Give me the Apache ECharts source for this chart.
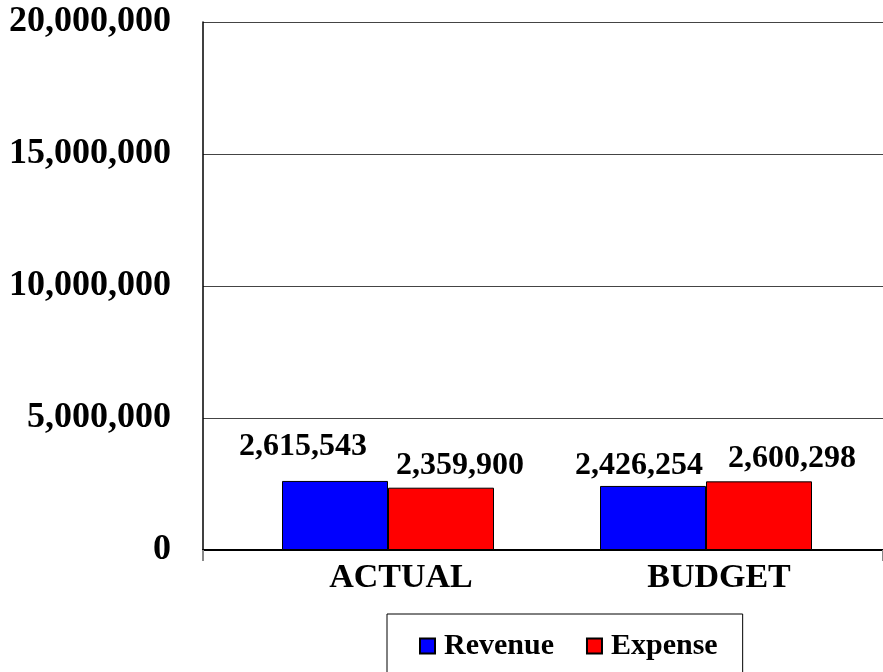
<!DOCTYPE html>
<html>
<head>
<meta charset="utf-8">
<script src="https://cdn.jsdelivr.net/npm/echarts@6/dist/echarts.min.js"></script>
<style>
html,body{margin:0;padding:0;background:#fff;}
#chart{width:883px;height:672px;}
</style>
</head>
<body>
<div id="chart"></div>
<script>
const categories = ['ACTUAL', 'BUDGET'];
const seriesNames = ['Revenue', 'Expense'];
const revenue = [2615543, 2426254];
const expense = [2359900, 2600298];
const yMin = 0, yMax = 20000000, yStep = 5000000;

const FONT = "'Times New Roman', 'Liberation Serif', serif";
const fmt = v => Math.round(v).toLocaleString('en-US');

// label nudges (layout only)
const revShift = [[-32, -12], [-14, 2]];
const expShift = [[19, 0], [33, -1]];

function items(vals, shifts) {
  return vals.map((v, i) => ({ value: v, label: { offset: shifts[i] } }));
}

const chart = echarts.init(document.getElementById('chart'), null, { renderer: 'canvas' });
const labelCommon = {
  show: true, position: 'top', distance: 6,
  fontFamily: FONT, fontWeight: 'bold', fontSize: 32, color: '#000',
  formatter: p => fmt(p.value)
};
chart.setOption({
  animation: false,
  backgroundColor: '#fff',
  grid: [
    { left: 203, right: 0, top: 22, bottom: 122 },
    { left: 229, right: 18, top: 22, bottom: 122 }
  ],
  legend: {
    data: seriesNames.map(n => ({ name: n, icon: 'rect' })),
    left: 387, top: 614,
    padding: [17, 25, 13, 32],
    itemGap: 32, itemWidth: 15, itemHeight: 15,
    borderColor: '#000', borderWidth: 1,
    textStyle: { fontFamily: FONT, fontWeight: 'bold', fontSize: 30, color: '#000', padding: [0, 0, 0, 4] }
  },
  xAxis: [
    {
      gridIndex: 0, type: 'category', data: categories,
      axisLine: { show: true, lineStyle: { color: '#000', width: 2 } },
      axisTick: { show: true, length: 11, interval: (i) => i === 0, lineStyle: { color: '#888', width: 2 } },
      axisLabel: { show: false }
    },
    {
      gridIndex: 1, type: 'category', data: categories,
      axisLine: { show: false }, axisTick: { show: false },
      axisLabel: { show: true, margin: 11, padding: [0, 0, 0, 26], fontFamily: FONT, fontWeight: 'bold', fontSize: 34, color: '#000' }
    }
  ],
  yAxis: [
    {
      gridIndex: 0, type: 'value', min: yMin, max: yMax, interval: yStep,
      axisLine: { show: true, lineStyle: { color: '#000', width: 1.5 } },
      axisTick: { show: false },
      splitLine: { show: true, lineStyle: { color: '#444', width: 1.2 } },
      axisLabel: { margin: 32, fontFamily: FONT, fontWeight: 'bold', fontSize: 36, color: '#000', formatter: v => fmt(v) }
    },
    {
      gridIndex: 1, type: 'value', min: yMin, max: yMax, interval: yStep,
      show: false, splitLine: { show: false }
    }
  ],
  series: [
    {
      name: seriesNames[0], type: 'bar', xAxisIndex: 1, yAxisIndex: 1,
      data: items(revenue, revShift),
      barWidth: 106, barGap: '0%',
      itemStyle: { color: '#0000FF', borderColor: '#000', borderWidth: 1 },
      label: labelCommon
    },
    {
      name: seriesNames[1], type: 'bar', xAxisIndex: 1, yAxisIndex: 1,
      data: items(expense, expShift),
      barWidth: 106, barGap: '0%',
      itemStyle: { color: '#FF0000', borderColor: '#000', borderWidth: 1 },
      label: labelCommon
    }
  ]
});
</script>
</body>
</html>
